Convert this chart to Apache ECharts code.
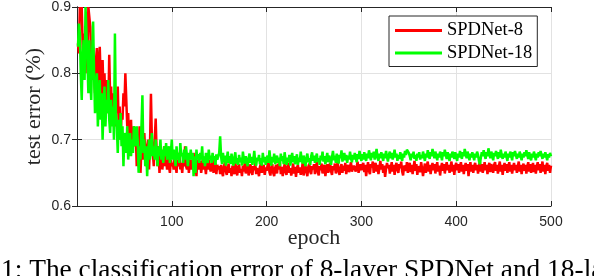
<!DOCTYPE html>
<html>
<head>
<meta charset="utf-8">
<script src="https://cdn.jsdelivr.net/npm/echarts@6/dist/echarts.min.js"></script>
<style>
html,body{margin:0;padding:0;background:#fff;}
#chart{width:594px;height:276px;}
</style>
</head>
<body>
<div id="chart"></div>
<script>
// test error per epoch, SPDNet-8 (red)
const spdnet8 = [
0.845,0.83,0.9,0.88,0.9,0.84,0.82,0.86,0.8,0.85,
0.83,0.9,0.9,0.87,0.82,0.79,0.84,0.8,0.77,0.82,
0.838,0.835,0.78,0.84,0.79,0.76,0.82,0.77,0.8,0.75,
0.79,0.77,0.74,0.828,0.76,0.78,0.73,0.77,0.75,0.72,
0.76,0.74,0.78,0.72,0.75,0.7,0.74,0.73,0.77,0.75,
0.8,0.76,0.72,0.74,0.69,0.71,0.73,0.68,0.7,0.72,
0.69,0.71,0.66,0.7,0.68,0.72,0.65,0.69,0.7,0.67,
0.71,0.68,0.66,0.69,0.7,0.655,0.69,0.769,0.7,0.68,
0.66,0.7,0.732,0.68,0.66,0.69,0.65,0.67,0.68,0.655,
0.67,0.69,0.66,0.67,0.655,0.68,0.66,0.65,0.67,0.66,
0.665,0.655,0.675,0.66,0.65,0.67,0.66,0.68,0.655,0.665,
0.65,0.67,0.66,0.69,0.66,0.655,0.675,0.65,0.665,0.67,
0.655,0.66,0.68,0.65,0.665,0.645,0.67,0.66,0.655,0.668,
0.65,0.662,0.675,0.655,0.66,0.648,0.665,0.655,0.67,0.66,
0.652,0.66,0.67,0.65,0.658,0.665,0.648,0.662,0.655,0.66,
0.648,0.662,0.651,0.645,0.66,0.666,0.652,0.647,0.658,0.664,
0.65,0.657,0.645,0.661,0.653,0.648,0.665,0.655,0.646,0.659,
0.663,0.65,0.656,0.645,0.661,0.652,0.666,0.649,0.657,0.662,
0.646,0.655,0.663,0.651,0.647,0.66,0.654,0.665,0.648,0.657,
0.652,0.645,0.659,0.664,0.65,0.656,0.662,0.647,0.658,0.653,
0.661,0.667,0.651,0.646,0.658,0.663,0.65,0.645,0.657,0.662,
0.649,0.664,0.655,0.666,0.648,0.659,0.645,0.656,0.663,0.651,
0.647,0.66,0.665,0.65,0.657,0.646,0.654,0.664,0.649,0.659,
0.644,0.657,0.662,0.65,0.658,0.647,0.653,0.665,0.646,0.656,
0.661,0.651,0.645,0.659,0.664,0.652,0.648,0.66,0.655,0.663,
0.648,0.658,0.666,0.651,0.646,0.66,0.654,0.664,0.649,0.657,
0.662,0.645,0.656,0.663,0.65,0.658,0.665,0.652,0.647,0.66,
0.654,0.664,0.649,0.659,0.666,0.651,0.647,0.658,0.663,0.65,
0.661,0.653,0.665,0.648,0.658,0.662,0.651,0.659,0.666,0.652,
0.649,0.661,0.664,0.652,0.659,0.667,0.65,0.656,0.663,0.654,
0.66,0.665,0.651,0.662,0.645,0.657,0.666,0.653,0.648,0.663,
0.658,0.667,0.65,0.661,0.665,0.652,0.662,0.648,0.657,0.668,
0.655,0.663,0.65,0.661,0.644,0.656,0.665,0.657,0.662,0.649,
0.658,0.666,0.652,0.662,0.647,0.66,0.665,0.654,0.65,0.663,
0.657,0.667,0.652,0.646,0.661,0.664,0.653,0.666,0.65,0.66,
0.665,0.651,0.662,0.648,0.658,0.668,0.653,0.663,0.647,0.66,
0.662,0.651,0.666,0.657,0.645,0.656,0.664,0.65,0.66,0.667,
0.652,0.662,0.648,0.658,0.665,0.654,0.663,0.649,0.66,0.666,
0.652,0.661,0.646,0.658,0.665,0.653,0.663,0.649,0.66,0.666,
0.654,0.662,0.65,0.658,0.667,0.652,0.662,0.647,0.66,0.665,
0.654,0.663,0.65,0.66,0.666,0.652,0.662,0.648,0.658,0.665,
0.653,0.663,0.645,0.658,0.666,0.652,0.662,0.65,0.66,0.665,
0.654,0.662,0.649,0.66,0.667,0.652,0.663,0.65,0.657,0.666,
0.654,0.662,0.648,0.66,0.665,0.651,0.663,0.658,0.65,0.662,
0.666,0.653,0.662,0.649,0.66,0.667,0.652,0.662,0.647,0.658,
0.665,0.653,0.663,0.65,0.66,0.666,0.652,0.662,0.649,0.658,
0.665,0.654,0.662,0.65,0.66,0.667,0.652,0.662,0.648,0.658,
0.664,0.653,0.662,0.649,0.66,0.666,0.652,0.663,0.65,0.657,
0.665,0.651,0.662,0.649,0.66,0.666,0.654,0.663,0.65,0.658,
0.667,0.652,0.662,0.648,0.66,0.665,0.653,0.662,0.65,0.661
];
// test error per epoch, SPDNet-18 (green)
const spdnet18 = [
0.84,0.875,0.86,0.8,0.76,0.83,0.85,0.79,0.9,0.9,
0.82,0.77,0.85,0.79,0.76,0.83,0.878,0.8,0.74,0.78,
0.8,0.72,0.76,0.79,0.73,0.77,0.7,0.75,0.78,0.72,
0.76,0.74,0.79,0.73,0.71,0.76,0.72,0.75,0.7,0.86,
0.74,0.72,0.68,0.73,0.7,0.74,0.69,0.72,0.66,0.71,
0.7,0.68,0.72,0.67,0.69,0.71,0.675,0.7,0.68,0.72,
0.716,0.69,0.72,0.7,0.65,0.69,0.67,0.72,0.767,0.68,
0.7,0.66,0.69,0.645,0.68,0.7,0.67,0.69,0.71,0.675,
0.69,0.67,0.7,0.68,0.66,0.69,0.675,0.7,0.67,0.685,
0.665,0.69,0.675,0.695,0.67,0.68,0.69,0.665,0.68,0.7,
0.67,0.685,0.675,0.66,0.69,0.67,0.68,0.665,0.695,0.675,
0.68,0.665,0.685,0.67,0.69,0.675,0.66,0.68,0.67,0.685,
0.67,0.68,0.645,0.675,0.65,0.685,0.67,0.678,0.665,0.68,
0.67,0.69,0.665,0.675,0.66,0.68,0.672,0.665,0.685,0.67,
0.676,0.665,0.68,0.67,0.675,0.662,0.678,0.67,0.668,0.68,
0.705,0.674,0.663,0.68,0.666,0.676,0.661,0.671,0.682,0.665,
0.675,0.663,0.679,0.668,0.661,0.673,0.681,0.664,0.672,0.662,
0.677,0.666,0.673,0.661,0.682,0.67,0.664,0.675,0.667,0.66,
0.672,0.679,0.665,0.674,0.662,0.67,0.683,0.666,0.661,0.673,
0.668,0.677,0.663,0.672,0.661,0.68,0.666,0.674,0.662,0.671,
0.676,0.665,0.684,0.67,0.661,0.674,0.666,0.679,0.663,0.672,
0.676,0.665,0.673,0.66,0.679,0.668,0.675,0.663,0.681,0.67,
0.662,0.673,0.666,0.677,0.661,0.671,0.68,0.666,0.675,0.663,
0.671,0.678,0.662,0.673,0.666,0.682,0.67,0.664,0.676,0.668,
0.66,0.673,0.679,0.666,0.672,0.662,0.675,0.681,0.668,0.676,
0.665,0.673,0.679,0.666,0.672,0.662,0.676,0.669,0.682,0.667,
0.675,0.663,0.672,0.68,0.666,0.676,0.67,0.662,0.674,0.683,
0.669,0.676,0.665,0.679,0.671,0.664,0.677,0.672,0.684,0.667,
0.674,0.68,0.669,0.677,0.665,0.676,0.67,0.682,0.672,0.666,
0.677,0.67,0.68,0.673,0.666,0.678,0.671,0.683,0.675,0.668,
0.678,0.67,0.681,0.674,0.668,0.679,0.672,0.684,0.676,0.669,
0.68,0.673,0.682,0.67,0.677,0.686,0.673,0.668,0.679,0.672,
0.681,0.675,0.668,0.679,0.672,0.683,0.674,0.667,0.677,0.682,
0.672,0.68,0.67,0.676,0.685,0.673,0.679,0.668,0.677,0.671,
0.681,0.675,0.668,0.679,0.673,0.683,0.677,0.685,0.688,0.68,
0.675,0.669,0.679,0.673,0.682,0.671,0.677,0.668,0.679,0.673,
0.681,0.67,0.677,0.672,0.682,0.675,0.668,0.679,0.673,0.684,
0.677,0.671,0.681,0.675,0.686,0.679,0.672,0.682,0.676,0.669,
0.679,0.673,0.682,0.677,0.669,0.681,0.675,0.685,0.677,0.671,
0.681,0.675,0.668,0.679,0.673,0.682,0.677,0.671,0.681,0.675,
0.668,0.679,0.673,0.683,0.677,0.671,0.681,0.675,0.686,0.679,
0.672,0.682,0.675,0.669,0.679,0.673,0.681,0.675,0.669,0.679,
0.673,0.682,0.677,0.668,0.663,0.673,0.681,0.675,0.684,0.677,
0.671,0.681,0.675,0.687,0.679,0.672,0.682,0.677,0.669,0.68,
0.675,0.683,0.677,0.671,0.681,0.673,0.685,0.677,0.671,0.679,
0.673,0.682,0.675,0.668,0.679,0.673,0.682,0.677,0.669,0.681,
0.675,0.683,0.677,0.671,0.679,0.673,0.682,0.675,0.669,0.679,
0.673,0.681,0.675,0.684,0.677,0.671,0.681,0.673,0.669,0.679,
0.673,0.682,0.675,0.669,0.679,0.673,0.681,0.675,0.683,0.677,
0.671,0.679,0.673,0.681,0.675,0.669,0.678,0.673,0.68,0.675
];
const epochs = spdnet8.map((_, i) => i + 1);
const seriesNames = ['SPDNet-8', 'SPDNet-18'];
const xTicks = [0, 100, 200, 300, 400, 500];
const yTicks = [0.6, 0.7, 0.8, 0.9];

const axisColor = '#262626';
const serif = '"Liberation Serif", "Times New Roman", serif';
const sans = '"Liberation Sans", Arial, sans-serif';

const chart = echarts.init(document.getElementById('chart'), null, {renderer: 'canvas'});
const frameAxis = {
  axisLine: {show: true, lineStyle: {color: axisColor, width: 1}},
  axisTick: {show: true, inside: true, length: 5, lineStyle: {color: axisColor}},
  axisLabel: {show: false},
  splitLine: {show: false}
};
chart.setOption({
  animation: false,
  backgroundColor: '#fff',
  grid: {left: 77, right: 43, top: 6, bottom: 70, containLabel: false},
  legend: {
    data: seriesNames,
    orient: 'vertical',
    left: 389, top: 16,
    padding: [5, 5, 4, 6],
    itemGap: 3.5,
    itemWidth: 47, itemHeight: 3,
    icon: 'rect',
    backgroundColor: '#fff',
    borderColor: axisColor, borderWidth: 1, borderRadius: 0,
    textStyle: {fontFamily: serif, fontSize: 18.5, color: '#000'}
  },
  xAxis: [{
    type: 'value', min: xTicks[0], max: xTicks[xTicks.length - 1], interval: 100,
    axisLine: {show: true, onZero: false, lineStyle: {color: axisColor, width: 1}},
    axisTick: {show: true, inside: true, length: 5, lineStyle: {color: axisColor}},
    axisLabel: {show: true, margin: 9, fontFamily: sans, fontSize: 14, color: axisColor,
      formatter: v => (v === 0 ? '' : String(v))},
    splitLine: {show: true, lineStyle: {color: '#e2e2e2', width: 1}}
  }, Object.assign({type: 'value', position: 'top', min: 0, max: 500, interval: 100}, frameAxis)],
  yAxis: [{
    type: 'value', min: yTicks[0], max: yTicks[yTicks.length - 1], interval: 0.1,
    axisLine: {show: true, onZero: false, lineStyle: {color: axisColor, width: 1}},
    axisTick: {show: true, inside: true, length: 5, lineStyle: {color: axisColor}},
    axisLabel: {show: true, margin: 6, fontFamily: sans, fontSize: 14, color: axisColor,
      formatter: v => v.toFixed(1)},
    splitLine: {show: true, lineStyle: {color: '#e2e2e2', width: 1}}
  }, Object.assign({type: 'value', position: 'right', min: 0.6, max: 0.9, interval: 0.1}, frameAxis)],
  graphic: [
    {type: 'text', x: 314, y: 238.5, style: {text: 'epoch', font: '22px ' + serif, fill: '#262626', align: 'center', verticalAlign: 'middle'}},
    {type: 'text', x: 34.5, y: 106.5, rotation: Math.PI / 2, style: {text: 'test error (%)', font: '22px ' + serif, fill: '#262626', align: 'center', verticalAlign: 'middle'}},
    {type: 'text', x: 1, y: 271, style: {text: '1: The classification error of 8-layer SPDNet and 18-layer SPDNet', font: '27.4px ' + serif, fill: '#000', align: 'left', verticalAlign: 'middle'}}
  ],
  series: [
    {name: seriesNames[0], type: 'line', xAxisIndex: 0, yAxisIndex: 0, showSymbol: false, color: '#ff0000',
      lineStyle: {width: 2.5, color: '#ff0000'}, data: epochs.map((e, i) => [e, spdnet8[i]])},
    {name: seriesNames[1], type: 'line', xAxisIndex: 0, yAxisIndex: 0, showSymbol: false, color: '#00ff00',
      lineStyle: {width: 2.5, color: '#00ff00'}, data: epochs.map((e, i) => [e, spdnet18[i]])}
  ]
});
</script>
</body>
</html>
